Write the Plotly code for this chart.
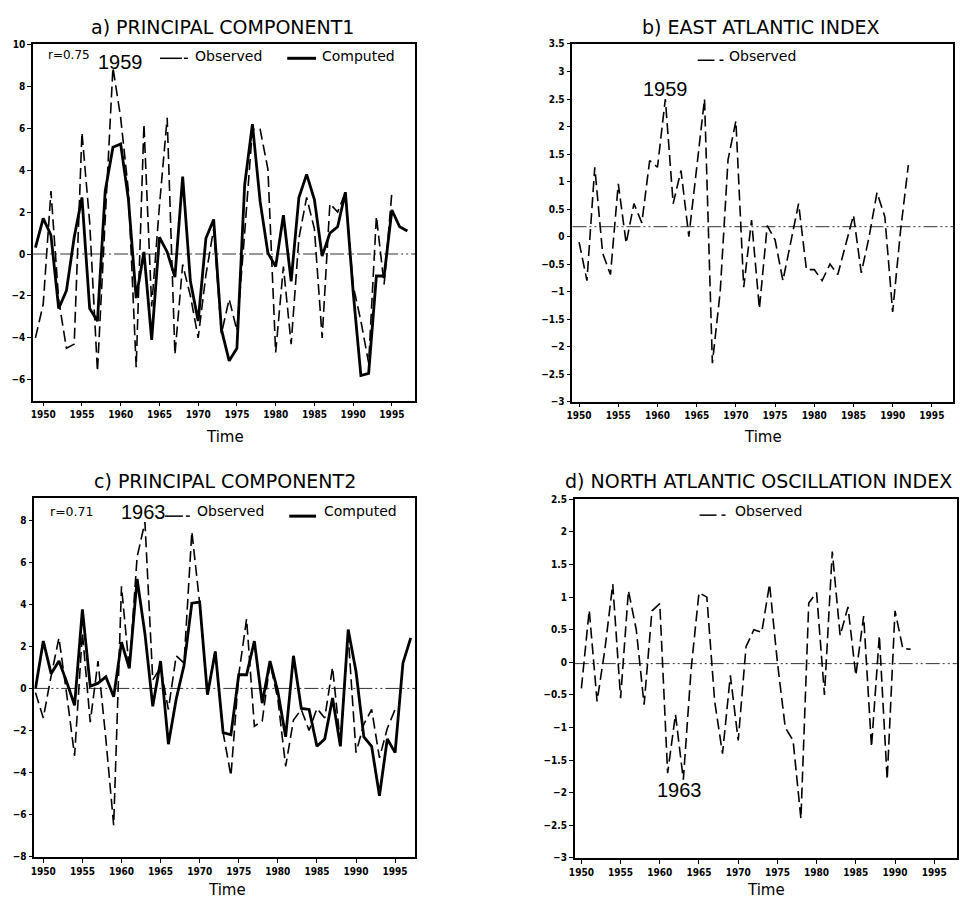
import plotly.graph_objects as go

# ---------------- data ----------------
years_comp = list(range(1949, 1998))   # computed series, panels a & c
years_obs = list(range(1949, 1996))    # observed series, panels a & c
years_idx = list(range(1950, 1993))    # EA / NAO indices

pc1_computed = [0.3, 1.7, 0.9, -2.6, -1.75, 0.8, 2.7, -2.6, -3.2, 3.0,
                5.1, 5.25, 2.6, -2.1, 0.1, -4.1, 0.8, 0.1, -1.1, 3.7,
                -1.3, -3.2, 0.75, 1.65, -3.6, -5.1, -4.5, 3.3, 6.2, 2.5,
                0.05, -0.6, 1.85, -1.3, 2.7, 3.8, 2.6, -0.1, 1.0, 1.3,
                2.95, -1.8, -5.8, -5.7, -1.05, -1.05, 2.1, 1.3, 1.1]
pc1_observed = [-4.0, -2.4, 3.0, -2.2, -4.5, -4.3, 5.8, 1.5, -5.6, 1.8,
                8.9, 6.5, 3.0, -5.4, 6.2, -2.5, 2.3, 6.5, -4.8, -0.5,
                -2.0, -4.0, -1.0, 1.2, -3.8, -2.15, -3.65, 1.0, 5.95, 5.95,
                4.05, -4.7, -0.6, -4.3, 0.75, 2.7, 1.2, -4.0, 2.4, 2.0,
                2.95, -1.5, -3.2, -5.2, 1.8, -1.45, 2.95]

pc2_computed = [0.0, 2.25, 0.7, 1.3, 0.3, -0.8, 3.75, 0.1, 0.25, 0.55,
                -0.4, 2.2, 0.95, 5.2, 2.6, -0.85, 1.3, -2.65, -0.5, 1.1,
                4.05, 4.1, -0.3, 1.75, -2.1, -2.2, 0.65, 0.65, 2.25, -0.7,
                1.3, -0.15, -2.3, 1.55, -0.95, -1.0, -2.75, -2.4, -0.45, -2.75,
                2.8, 0.8, -2.3, -2.75, -5.1, -2.4, -3.05, 1.2, 2.4]
pc2_observed = [-0.2, -1.4, 0.6, 2.4, -0.3, -3.2, 2.65, -1.6, 1.3, -2.4,
                -6.5, 4.85, 0.9, 6.25, 7.9, 0.4, 1.0, -1.0, 1.55, 1.2,
                7.45, 4.05, -0.3, 1.8, -2.1, -4.15, 0.65, 3.3, -1.8, -1.55,
                1.2, -0.5, -3.7, -1.5, -1.0, -2.0, -0.95, -1.4, 1.0, -2.6,
                2.5, -3.05, -1.7, -1.0, -3.3, -1.9, -1.0]

ea_observed = [-0.1, -0.8, 1.26, -0.3, -0.69, 0.96, -0.12, 0.6, 0.25, 1.38,
               1.26, 2.5, 0.6, 1.2, 0.0, 1.3, 2.5, -2.3, -1.0, 1.4,
               2.1, -0.92, 0.3, -1.31, 0.2, -0.06, -0.8, -0.1, 0.6, -0.6,
               -0.6, -0.8, -0.5, -0.69, -0.15, 0.39, -0.66, 0.0, 0.8, 0.36,
               -1.37, 0.1, 1.3]

nao_observed = [-0.4, 0.8, -0.6, 0.2, 1.2, -0.55, 1.1, 0.5, -0.65, 0.79,
                0.9, -1.7, -0.8, -1.8, -0.1, 1.07, 1.0, -0.6, -1.4, -0.2,
                -1.2, 0.24, 0.5, 0.46, 1.2, 0.0, -1.0, -1.2, -2.4, 0.91,
                1.07, -0.5, 1.7, 0.41, 0.85, -0.2, 0.71, -1.3, 0.41, -1.8,
                0.79, 0.21, 0.2]

ref_levels = {"a": 0.0, "b": 0.18, "c": 0.0, "d": -0.02}

x_ticks = [1950, 1955, 1960, 1965, 1970, 1975, 1980, 1985, 1990, 1995]
y_ticks_a = [-6, -4, -2, 0, 2, 4, 6, 8, 10]
y_ticks_b = [-3, -2.5, -2, -1.5, -1, -0.5, 0, 0.5, 1, 1.5, 2, 2.5, 3, 3.5]
y_ticks_c = [-8, -6, -4, -2, 0, 2, 4, 6, 8]
y_ticks_d = [-3, -2.5, -2, -1.5, -1, -0.5, 0, 0.5, 1, 1.5, 2, 2.5]

titles = ["a) PRINCIPAL COMPONENT1", "b) EAST ATLANTIC INDEX",
          "c) PRINCIPAL COMPONENT2", "d) NORTH ATLANTIC OSCILLATION INDEX"]
corr_labels = ["r=0.75", "r=0.71"]
year_labels = ["1959", "1959", "1963", "1963"]

# ---------------- figure ----------------
W, H = 960, 904
OBS_DASH = "11px,5px"
REF_DASH = "14px,3px,2px,3px,2px,3px"
TICKFONT = dict(family="DejaVu Sans Condensed, Liberation Sans Narrow, Liberation Sans",
                size=10, color="black", weight="bold")

fig = go.Figure()

def obs_trace(x, y, ax):
    fig.add_trace(go.Scatter(x=x, y=y, mode="lines", xaxis="x" + ax, yaxis="y" + ax,
                             line=dict(color="black", width=1.6, dash=OBS_DASH),
                             showlegend=False, hoverinfo="skip"))

def comp_trace(x, y, ax):
    fig.add_trace(go.Scatter(x=x, y=y, mode="lines", xaxis="x" + ax, yaxis="y" + ax,
                             line=dict(color="black", width=2.8),
                             showlegend=False, hoverinfo="skip"))

obs_trace(years_obs, pc1_observed, "")
comp_trace(years_comp, pc1_computed, "")
obs_trace(years_idx, ea_observed, "2")
obs_trace(years_obs, pc2_observed, "3")
comp_trace(years_comp, pc2_computed, "3")
obs_trace(years_idx, nao_observed, "4")

def px(xp, yp):
    return xp / W, 1 - yp / H

panels = {
    "":  dict(xd=(27.3, 411.7), yd=(39, 400),   xr=[1948.7, 1998.0], yr=[-7, 10],   yt=y_ticks_a, ref="a"),
    "2": dict(xd=(570, 953.3),  yd=(38.5, 401), xr=[1949.15, 1997.74], yr=[-3, 3.5], yt=y_ticks_b, ref="b"),
    "3": dict(xd=(28.5, 412),   yd=(498.3, 862.3), xr=[1948.85, 1997.6], yr=[-8, 9.06], yt=y_ticks_c, ref="c"),
    "4": dict(xd=(572.3, 956.7), yd=(500, 863.3), xr=[1949.15, 1997.87], yr=[-3, 2.5], yt=y_ticks_d, ref="d"),
}

layout = dict(width=W, height=H, margin=dict(l=0, r=0, t=0, b=0),
              paper_bgcolor="white", plot_bgcolor="white", showlegend=False)
shapes = []
for k, p in panels.items():
    x0, x1 = p["xd"][0] / W, p["xd"][1] / W
    y0, y1 = 1 - p["yd"][1] / H, 1 - p["yd"][0] / H
    layout["xaxis" + k] = dict(domain=[x0, x1], range=p["xr"], tickvals=x_ticks,
                               anchor="y" + k, showline=True, linecolor="black", linewidth=1.6,
                               mirror=True, ticks="outside", ticklen=4, tickwidth=1,
                               tickcolor="black", showgrid=False, zeroline=False,
                               tickfont=TICKFONT)
    layout["yaxis" + k] = dict(domain=[y0, y1], range=p["yr"], tickvals=p["yt"],
                               anchor="x" + k, showline=True, linecolor="black", linewidth=1.6,
                               mirror=True, ticks="outside", ticklen=4, tickwidth=1,
                               tickcolor="black", showgrid=False, zeroline=False,
                               tickfont=TICKFONT)
    shapes.append(dict(type="line", xref="x" + k + " domain", yref="y" + k,
                       x0=0, x1=1, y0=ref_levels[p["ref"]], y1=ref_levels[p["ref"]],
                       line=dict(color="#333333", width=1, dash=REF_DASH), layer="below"))

annotations = []

def text(t, xp, yp, size, family="DejaVu Sans", xanchor="center"):
    x, y = px(xp, yp)
    annotations.append(dict(text=t, x=x, y=y, xref="paper", yref="paper",
                            xanchor=xanchor, yanchor="middle", showarrow=False,
                            font=dict(family=family, size=size, color="black")))

def seg(x0p, x1p, yp, width):
    a0, b0 = px(x0p, yp)
    a1, _ = px(x1p, yp)
    shapes.append(dict(type="line", xref="paper", yref="paper", x0=a0, x1=a1, y0=b0, y1=b0,
                       line=dict(color="black", width=width)))

# titles
text(titles[0], 218, 21, 19)
text(titles[1], 760, 21, 19)
text(titles[2], 220, 481, 19)
text(titles[3], 757, 481, 19)

# x-axis titles
for xc, yc in [(220, 437), (762, 437), (222, 896), (765, 896)]:
    text("Time", xc, yc, 15)

# panel a legend
text(corr_labels[0], 40, 50, 12, xanchor="left")
text(year_labels[0], 115, 57, 20, family="Liberation Sans")
seg(155, 177, 53, 1.5); seg(179, 183, 53, 1.5)
text("Observed", 188, 51, 14, xanchor="left")
seg(283, 312, 53, 3)
text("Computed", 316, 51, 14, xanchor="left")

# panel b legend
seg(696, 713, 55, 1.5); seg(718, 722, 55, 1.5)
text("Observed", 726, 51, 14, xanchor="left")
text(year_labels[1], 664, 84, 20, family="Liberation Sans")

# panel c legend
text(corr_labels[1], 42, 512, 12.5, xanchor="left")
text(year_labels[2], 138, 513, 20, family="Liberation Sans")
seg(160, 178, 517, 1.5); seg(181, 185, 517, 1.5)
text("Observed", 190, 512, 14, xanchor="left")
seg(285, 312, 517, 3)
text("Computed", 318, 512, 14, xanchor="left")

# panel d legend
seg(698, 715, 516, 1.5); seg(720, 724, 516, 1.5)
text("Observed", 732, 512, 14, xanchor="left")
text(year_labels[3], 678, 795, 20, family="Liberation Sans")

layout["shapes"] = shapes
layout["annotations"] = annotations
fig.update_layout(**layout)
fig.write_html("out.html")
